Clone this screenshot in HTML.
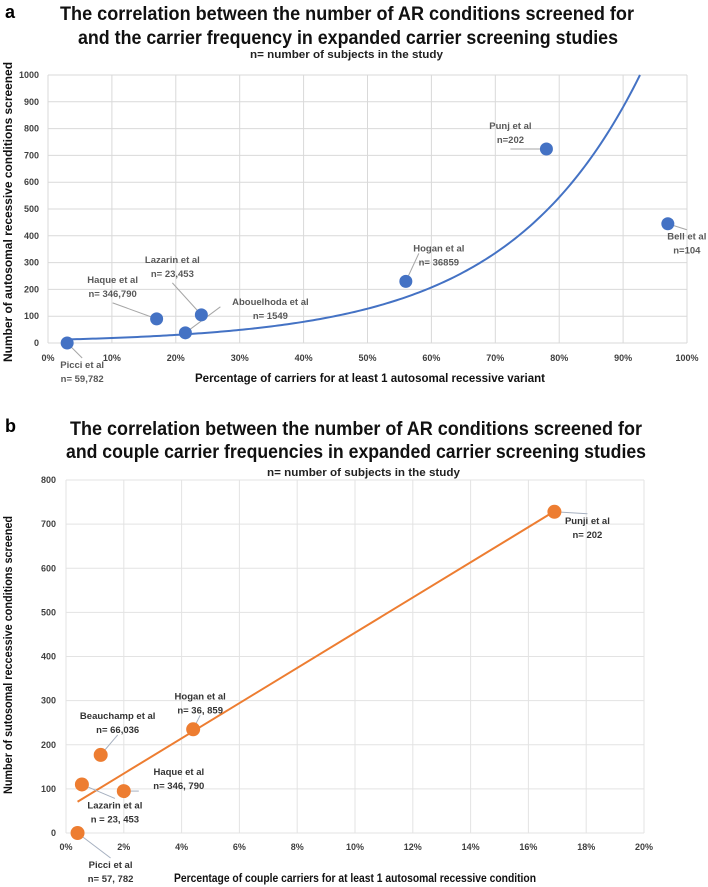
<!DOCTYPE html>
<html><head><meta charset="utf-8"><style>
html,body{margin:0;padding:0;background:#fff;}
svg{display:block;font-family:"Liberation Sans",sans-serif;}
.tick{font-size:9px;font-weight:bold;fill:#404040;}
.ann{font-size:9.5px;fill:#595959;font-weight:bold;}
.ttl{font-size:19px;font-weight:bold;fill:#111;}
.sub{font-size:11px;font-weight:bold;fill:#222;}
.axt{font-size:12px;font-weight:bold;fill:#111;}
</style></head><body>
<svg id="s" width="708" height="887" viewBox="0 0 708 887">
<text x="5" y="18" style="font-size:18px;font-weight:bold">a</text>
<text class="ttl" x="60" y="20" textLength="574" lengthAdjust="spacingAndGlyphs">The correlation between the number of AR conditions screened for</text>
<text class="ttl" x="78" y="44" textLength="540" lengthAdjust="spacingAndGlyphs">and the carrier frequency in expanded carrier screening studies</text>
<text class="sub" x="250" y="58" textLength="193" lengthAdjust="spacingAndGlyphs">n= number of subjects in the study</text>
<text class="axt" x="370" y="382" text-anchor="middle" textLength="350" lengthAdjust="spacingAndGlyphs">Percentage of carriers for at least 1 autosomal recessive variant</text>
<text class="axt" transform="translate(12,212) rotate(-90)" text-anchor="middle" textLength="300" lengthAdjust="spacingAndGlyphs">Number of autosomal recessive conditions screened</text>

<text x="5" y="432" style="font-size:18px;font-weight:bold">b</text>
<text class="ttl" x="70" y="435" textLength="572" lengthAdjust="spacingAndGlyphs">The correlation between the number of AR conditions screened for</text>
<text class="ttl" x="66" y="458" textLength="580" lengthAdjust="spacingAndGlyphs">and couple carrier frequencies in expanded carrier screening studies</text>
<text class="sub" x="267" y="476" textLength="193" lengthAdjust="spacingAndGlyphs">n= number of subjects in the study</text>
<text class="axt" x="355" y="882" text-anchor="middle" textLength="362" lengthAdjust="spacingAndGlyphs">Percentage of couple carriers for at least 1 autosomal recessive condition</text>
<text class="axt" transform="translate(12,655) rotate(-90)" text-anchor="middle" textLength="278" lengthAdjust="spacingAndGlyphs">Number of sutosomal reccessive conditions screened</text>
<g id="ga"></g><g id="gb"></g>
</svg>
<script>
// Chart A data
const aNames = ["Picci et al","Haque et al","Abouelhoda et al","Lazarin et al","Hogan et al","Punj et al","Bell et al"];
const aSub = ["n= 59,782","n= 346,790","n= 1549","n= 23,453","n= 36859","n=202","n=104"];
const aX = [3,17,21.5,24,56,78,97];
const aY = [0,90,38,105,230,724,445];
const aXTicks = [0,10,20,30,40,50,60,70,80,90,100];
const aYTicks = [0,100,200,300,400,500,600,700,800,900,1000];
const aTrendA = 11.5, aTrendB = 4.82; // exponential trendline y = A*exp(B*x)
// Chart B data
const bNames = ["Picci et al","Lazarin et al","Beauchamp et al","Haque et al","Hogan et al","Punji et al"];
const bSub = ["n= 57, 782","n = 23, 453","n= 66,036","n= 346, 790","n= 36, 859","n= 202"];
const bX = [0.4,0.55,1.2,2,4.4,16.9];
const bY = [0,110,177,95,235,728];
const bXTicks = [0,2,4,6,8,10,12,14,16,18,20];
const bYTicks = [0,100,200,300,400,500,600,700,800];

const NS="http://www.w3.org/2000/svg";
function mk(p,t,a){const e=document.createElementNS(NS,t);for(const k in a)e.setAttribute(k,a[k]);p.appendChild(e);return e;}

// ---- A
const ga=document.getElementById('ga');
const ax=v=>48+v/100*639, ay=v=>343-v/1000*268;
aXTicks.forEach(t=>{const l=mk(ga,'line',{x1:ax(t),x2:ax(t),y1:ay(1000),y2:ay(0),stroke:'#d9d9d9','stroke-width':1});

const tx=mk(ga,'text',{x:ax(t),y:361,'text-anchor':'middle',class:'tick'});tx.textContent=t+'%';
});
aYTicks.forEach(t=>{const l=mk(ga,'line',{x1:ax(0),x2:ax(100),y1:ay(t),y2:ay(t),stroke:'#d9d9d9','stroke-width':1});

const tx=mk(ga,'text',{x:39,y:ay(t)+3,'text-anchor':'end',class:'tick'});tx.textContent=t;
});
let d='';for(let x=3;x<=100;x+=0.5){const y=aTrendA*Math.exp(aTrendB*x/100);if(y>1000){const xx=Math.log(1000/aTrendA)/aTrendB*100;d+='L'+ax(xx)+','+ay(1000);break;}d+=(d?'L':'M')+ax(x)+','+ay(y);}
const tr=mk(ga,'path',{d:d,fill:'none',stroke:'#4472c4','stroke-width':2});

const aLab=[[15,25],[-44,-36],[85,-28],[-29,-52],[33,-30],[-36,-20],[19,16]];
aX.forEach((v,i)=>{const px=ax(v),py=ay(aY[i]);const lx=px+aLab[i][0],ly=py+aLab[i][1];
const ll=mk(ga,'line',{x1:px,y1:py,x2:lx+(i==2?-50:i==4?-20:0),y2:ly+(aLab[i][1]<0?(i==2||i==4?2:20):-10),stroke:'#a6a6a6','stroke-width':1});

const c=mk(ga,'circle',{cx:px,cy:py,r:6.5,fill:'#4472c4'});

const t1=mk(ga,'text',{x:lx,y:ly,'text-anchor':'middle',class:'ann'});t1.textContent=aNames[i];

const t2=mk(ga,'text',{x:lx,y:ly+14,'text-anchor':'middle',class:'ann'});t2.textContent=aSub[i];
});

// ---- B
const gb=document.getElementById('gb');
const bx=v=>66+v/20*578, by=v=>833-v/800*353;
bXTicks.forEach(t=>{const l=mk(gb,'line',{x1:bx(t),x2:bx(t),y1:by(800),y2:by(0),stroke:'#e3e3e3','stroke-width':1});

const tx=mk(gb,'text',{x:bx(t),y:850,'text-anchor':'middle',class:'tick'});tx.textContent=t+'%';
});
bYTicks.forEach(t=>{const l=mk(gb,'line',{x1:bx(0),x2:bx(20),y1:by(t),y2:by(t),stroke:'#e3e3e3','stroke-width':1});

const tx=mk(gb,'text',{x:56,y:by(t)+3,'text-anchor':'end',class:'tick'});tx.textContent=t;
});
const n=bX.length,mx=bX.reduce((a,b)=>a+b)/n,my=bY.reduce((a,b)=>a+b)/n;
let sxy=0,sxx=0;bX.forEach((x,i)=>{sxy+=(x-mx)*(bY[i]-my);sxx+=(x-mx)*(x-mx);});
const sl=sxy/sxx,ic=my-sl*mx,x0=Math.min(...bX),x1=Math.max(...bX);
const rl=mk(gb,'line',{x1:bx(x0),y1:by(ic+sl*x0),x2:bx(x1),y2:by(ic+sl*x1),stroke:'#ed7d31','stroke-width':2});

const bLab=[[33,35],[33,24],[17,-36],[55,-16],[7,-30],[33,12]];
bX.forEach((v,i)=>{const px=bx(v),py=by(bY[i]);const lx=px+bLab[i][0],ly=py+bLab[i][1];
const ll=mk(gb,'line',{x1:px,y1:py,x2:lx-(i==3?40:0),y2:ly+(bLab[i][1]<0?16:-10),stroke:'#a6b0c0','stroke-width':1});

const c=mk(gb,'circle',{cx:px,cy:py,r:7,fill:'#ed7d31'});

const t1=mk(gb,'text',{x:lx,y:ly,'text-anchor':'middle',class:'ann',style:'fill:#333'});t1.textContent=bNames[i];

const t2=mk(gb,'text',{x:lx,y:ly+14,'text-anchor':'middle',class:'ann',style:'fill:#333'});t2.textContent=bSub[i];
});
</script>
</body></html>
